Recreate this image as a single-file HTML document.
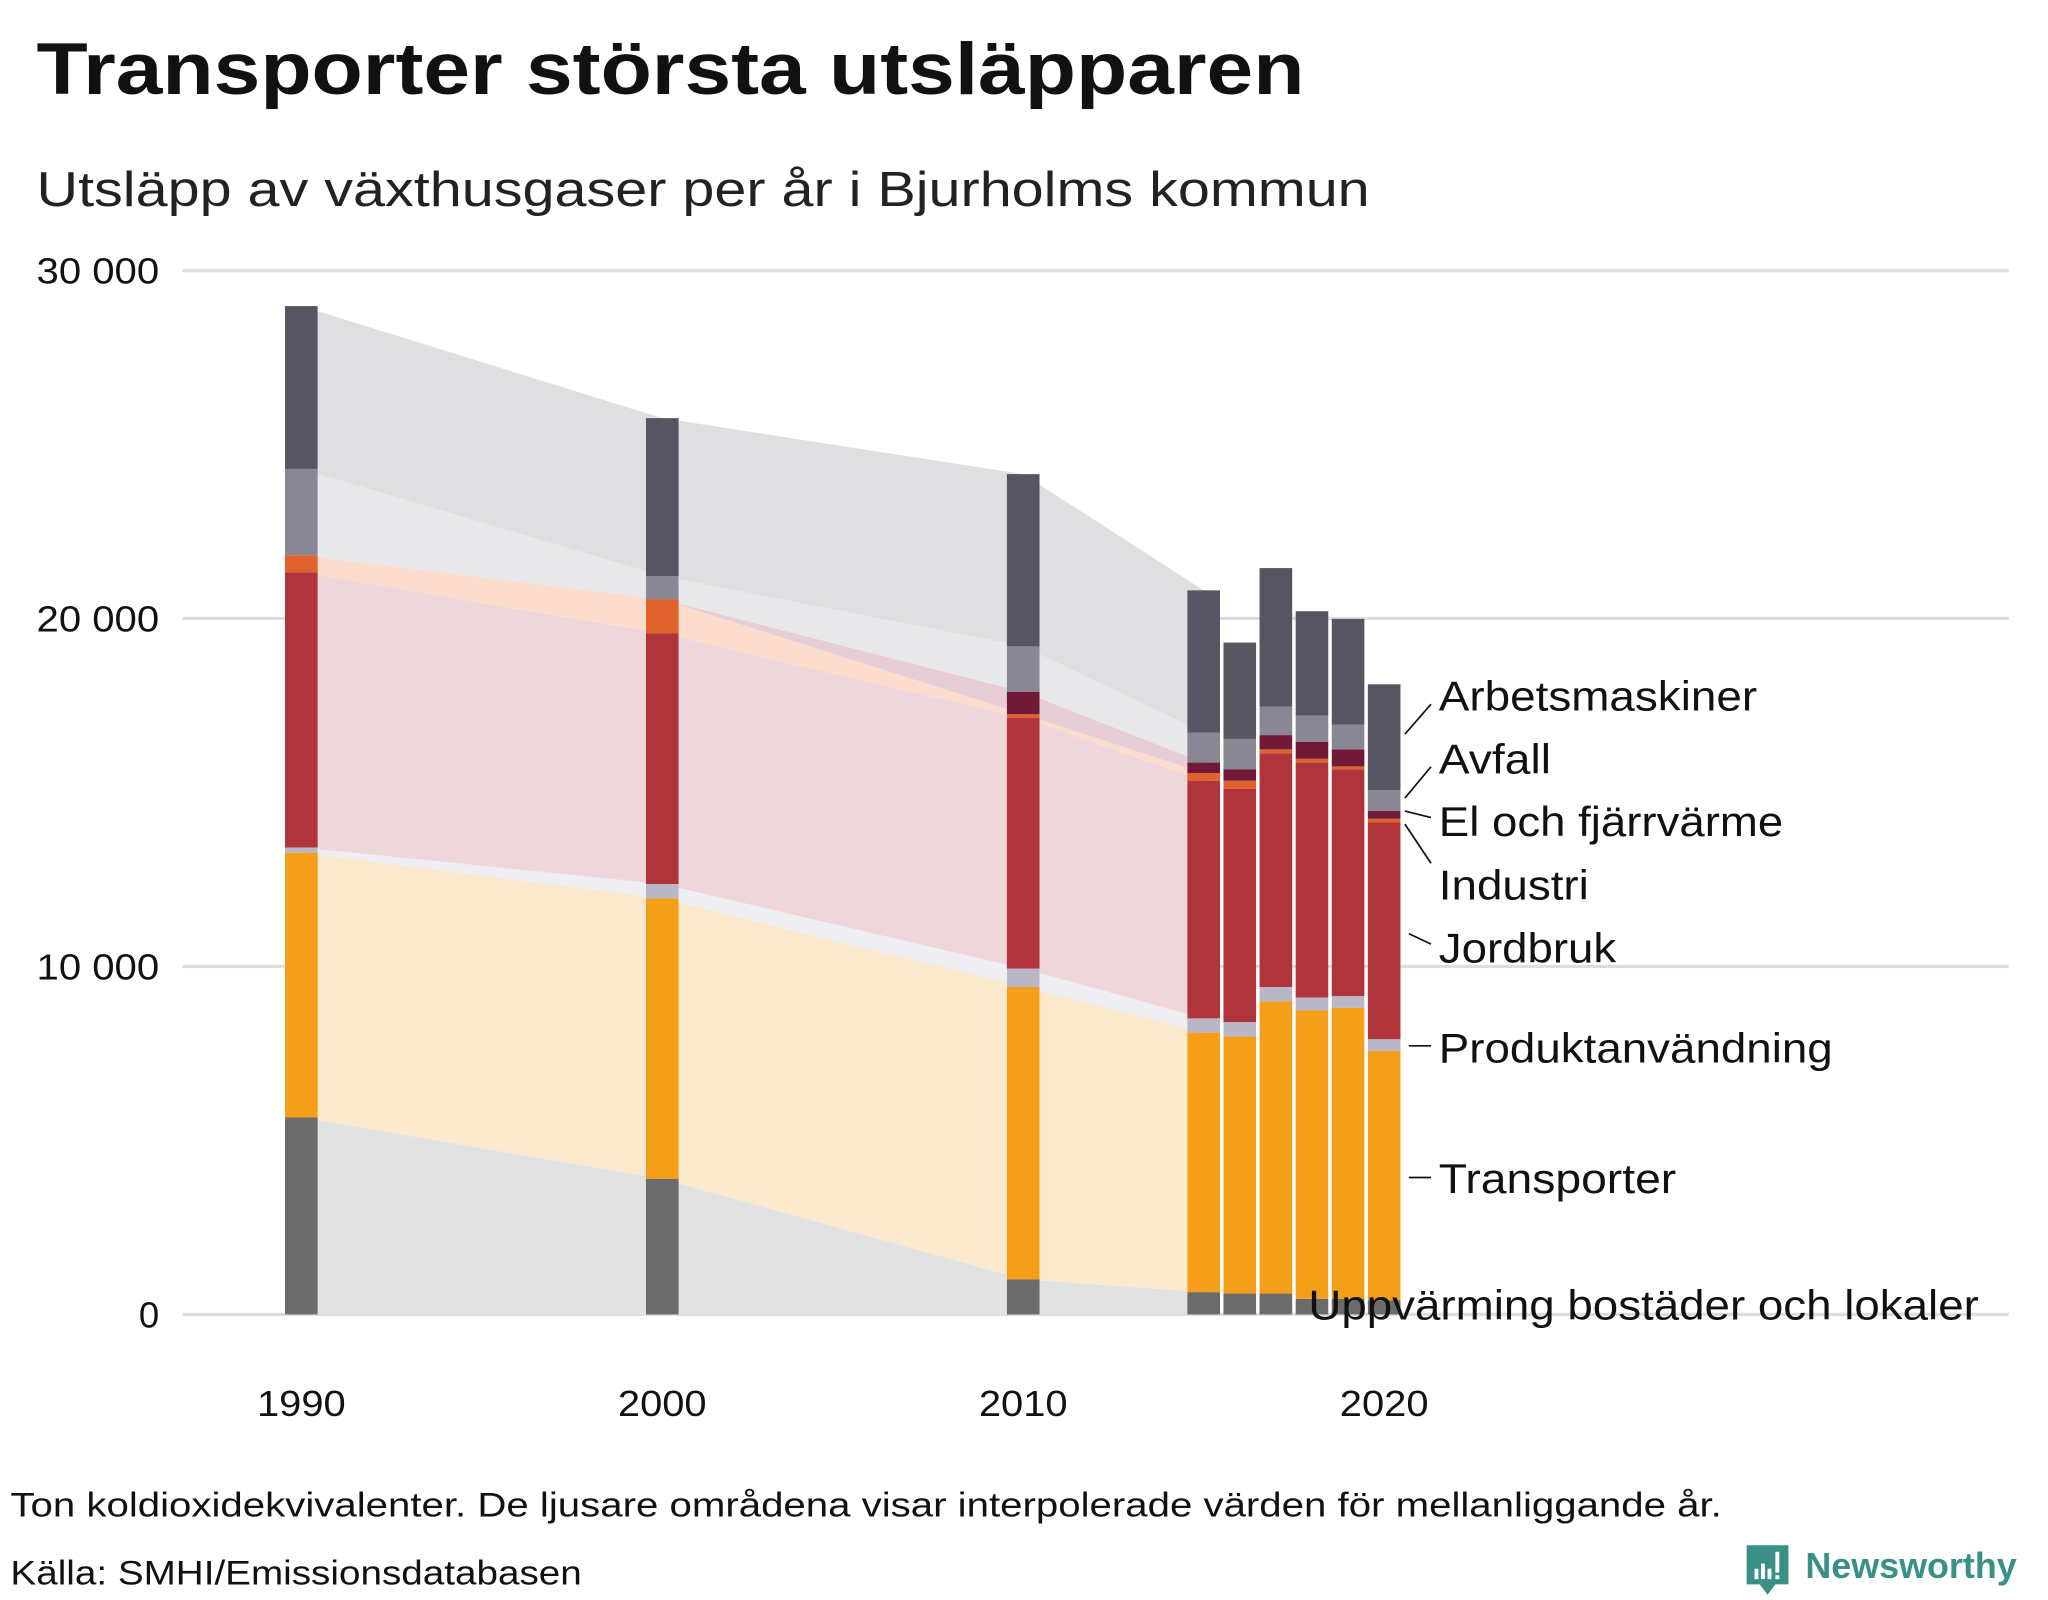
<!DOCTYPE html>
<html><head><meta charset="utf-8"><style>
html,body{margin:0;padding:0;background:#fff;}
svg{display:block;}
text{font-family:"Liberation Sans",sans-serif;}
</style></head><body>
<svg id="chart" width="2048" height="1600" viewBox="0 0 1570 1227" preserveAspectRatio="none" xmlns="http://www.w3.org/2000/svg">
<text x="28" y="72" font-size="56" font-weight="bold" fill="#111" textLength="972" lengthAdjust="spacingAndGlyphs">Transporter största utsläpparen</text>
<text x="28" y="158" font-size="38" fill="#222" textLength="1022" lengthAdjust="spacingAndGlyphs">Utsläpp av växthusgaser per år i Bjurholms kommun</text>
<g id="grid"></g>
<g id="areas"></g>
<g id="bars"></g>
<g id="labels"></g>
<text x="8" y="1163" font-size="26" fill="#111" textLength="1312" lengthAdjust="spacingAndGlyphs">Ton koldioxidekvivalenter. De ljusare områdena visar interpolerade värden för mellanliggande år.</text>
<text x="8" y="1215" font-size="26" fill="#111" textLength="438" lengthAdjust="spacingAndGlyphs">Källa: SMHI/Emissionsdatabasen</text>
<g>
<path d="M1339 1185 h32 v30 h-10 l-6 8 l-6 -8 h-10 z" fill="#3a8f86"/>
<rect x="1345" y="1203" width="3" height="8" fill="#fff"/><rect x="1350" y="1199" width="3" height="12" fill="#fff"/><rect x="1355" y="1203" width="3" height="8" fill="#fff"/><rect x="1361" y="1190" width="3" height="16" fill="#fff"/><rect x="1361" y="1208" width="3" height="3" fill="#fff"/>
<text x="1384" y="1210" font-size="28" font-weight="bold" fill="#3a8f86" textLength="162" lengthAdjust="spacingAndGlyphs">Newsworthy</text>
</g>
</svg>
<script>
const years = [1990, 2000, 2010, 2015, 2016, 2017, 2018, 2019, 2020];
const seriesNames = ["Uppvärming bostäder och lokaler","Transporter","Produktanvändning","Jordbruk","Industri","El och fjärrvärme","Avfall","Arbetsmaskiner"];
const uppvarming = [5660, 3900, 1010, 640, 600, 600, 450, 450, 410];
const transporter = [7610, 8060, 8400, 7460, 7390, 8400, 8290, 8360, 7160];
const produkt = [150, 410, 530, 410, 410, 410, 370, 340, 340];
const jordbruk = [7910, 7200, 7200, 6830, 6710, 6710, 6750, 6520, 6230];
const industri = [490, 980, 110, 220, 230, 120, 110, 80, 110];
const elFjarr = [0, 0, 640, 300, 330, 410, 490, 490, 220];
const avfall = [2480, 670, 1310, 860, 870, 820, 750, 710, 600];
const arbetsmaskiner = [4680, 4540, 4950, 4090, 2770, 3980, 3000, 3040, 3040];
const yTicks = [0, 10000, 20000, 30000];
const yTickLabels = ["0", "10 000", "20 000", "30 000"];
const xTicks = [1990, 2000, 2010, 2020];
const colors = ["#6b6b6b","#f59e1a","#b9b7c6","#b0343c","#e0622c","#701a38","#8a8794","#585563"];
const lightColors = ["#e2e2e2","#fbe9ce","#efeef3","#efd6da","#fbdccd","#e6cdd6","#e8e7ea","#dfdfe1"];

const NS = "http://www.w3.org/2000/svg";
function x(yr){ return 231 + (yr - 1990) * 27.67; }
function y(v){ return 1008 - v * 0.026683; }
function mk(tag, attrs, parent){ const e=document.createElementNS(NS,tag); for(const k in attrs) e.setAttribute(k,attrs[k]); parent.appendChild(e); return e; }

const grid = document.getElementById('grid');
yTicks.forEach((t,i)=>{
  const l = mk('line',{x1:140,x2:1540,y1:y(t),y2:y(t),stroke:'#dddddd','stroke-width':2.5},grid);
  
  
  const attrs = {x:122,y:y(t)+10,'font-size':28,'text-anchor':'end',fill:'#111'};
  if(yTickLabels[i].length>1){ attrs.textLength=94; attrs.lengthAdjust='spacingAndGlyphs'; }
  const tx = mk('text',attrs,grid);
  tx.textContent = yTickLabels[i];
  
  
});
xTicks.forEach(t=>{
  const tx = mk('text',{x:x(t),y:1086,'font-size':28,'text-anchor':'middle',fill:'#111',textLength:68,lengthAdjust:'spacingAndGlyphs'},grid);
  tx.textContent = t;
  
  
});

const data = [uppvarming, transporter, produkt, jordbruk, industri, elFjarr, avfall, arbetsmaskiner];
const cum = years.map((_,j)=>{ let s=0; return data.map(d=>{ const b=s; s+=d[j]; return [b,s]; }); });

const areas = document.getElementById('areas');
const gapIdx = years.map((_,j)=>j).filter(j=>j<=3);
data.forEach((d,si)=>{
  const top = gapIdx.map(j=>x(years[j])+','+y(cum[j][si][1]));
  const bot = gapIdx.slice().reverse().map(j=>x(years[j])+','+y(cum[j][si][0]));
  const p = mk('polygon',{points:top.concat(bot).join(' '),fill:lightColors[si]},areas);
  
  
});

const bars = document.getElementById('bars');
years.forEach((yr,j)=>{
  data.forEach((d,si)=>{
    if(d[j]<=0) return;
    const [b,t] = cum[j][si];
    const r = mk('rect',{x:x(yr)-12.5,y:y(t),width:25,height:y(b)-y(t),fill:colors[si]},bars);
    
    
  });
});

const labels = document.getElementById('labels');
const labelSpec = [
  [7,"Arbetsmaskiner",1103,545,[1077,563,1097,540],244],
  [6,"Avfall",1103,593,[1077,612,1097,588],86],
  [5,"El och fjärrvärme",1103,641,[1077,622,1097,627],264],
  [4,"Industri",1103,690,[1077,632,1097,662],115],
  [3,"Jordbruk",1103,738,[1080,716,1097,724],136],
  [2,"Produktanvändning",1103,815,[1080,802,1097,802],302],
  [1,"Transporter",1103,915,[1080,903,1097,903],182],
  [0,"Uppvärming bostäder och lokaler",1003,1012,null,514]
];
labelSpec.forEach(s=>{
  if(s[4]){
    const l = mk('line',{x1:s[4][0],y1:s[4][1],x2:s[4][2],y2:s[4][3],stroke:'#111','stroke-width':1.3},labels);
    
    
  }
  const t = mk('text',{x:s[2],y:s[3],'font-size':32,fill:'#111',textLength:s[5],lengthAdjust:'spacingAndGlyphs'},labels);
  t.textContent = s[1];
  
  
});
</script>
</body></html>
